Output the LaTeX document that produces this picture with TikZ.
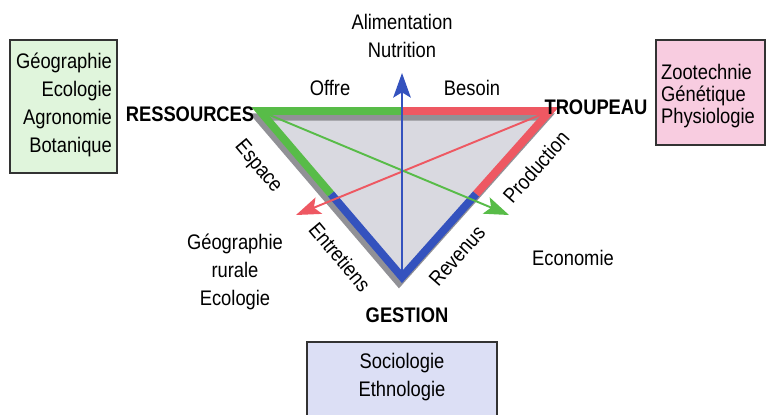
\documentclass[tikz,border=0pt]{standalone}
\usepackage{fontspec}
\setmainfont{Liberation Sans}[FakeStretch=0.87]
\usetikzlibrary{arrows.meta,calc,positioning}
\definecolor{resgreen}{RGB}{88,188,72}
\definecolor{troured}{RGB}{238,88,98}
\definecolor{gesblue}{RGB}{52,82,190}
\definecolor{boxgreen}{RGB}{224,245,220}
\definecolor{boxpink}{RGB}{248,204,224}
\definecolor{boxblue}{RGB}{220,223,245}
\definecolor{trigray}{RGB}{217,217,224}
\definecolor{edgegray}{RGB}{145,145,150}

\begin{document}
\begin{tikzpicture}[x=0.02cm,y=-0.02cm,
  every node/.style={font=\fontsize{12}{16}\selectfont, inner sep=1pt},
  side/.style={line width=4.5pt, line join=miter},
  axe/.style={line width=1.1pt, -{Stealth[length=14pt,width=10pt,inset=3pt]}},
  pole/.style={font=\fontsize{12}{16}\selectfont\bfseries},
  discipline/.style={draw=black!80, line width=0.6pt}]
\useasboundingbox (0,0) rectangle (766,414);
% sommets du triangle
\coordinate (res) at (260,111);
\coordinate (trp) at (550,111);
\coordinate (ges) at (402,277);
\coordinate (mtop) at (402,111);
\coordinate (mleft) at ($(res)!0.5!(ges)$);
\coordinate (mright) at ($(trp)!0.5!(ges)$);
\coordinate (alim) at (402,73);
\coordinate (redtip) at (296,215);
\coordinate (greentip) at (509,215);
% triangle gris
\draw[edgegray, line width=4pt, fill=trigray] ($(res)+(-3,6)$) -- ($(trp)+(-3,6)$) -- ($(ges)+(-3,6)$) -- cycle;
\draw[side, resgreen] (mtop) -- (res) -- (mleft);
\draw[side, troured] (mtop) -- (trp) -- (mright);
\draw[side, gesblue] (mleft) -- (ges) -- (mright);
\draw[axe, troured] (trp) -- (redtip);
\draw[axe, resgreen] (res) -- (greentip);
\draw[axe, gesblue] (ges) -- (alim);
% disciplines
\draw[discipline, fill=boxgreen] (10,40) rectangle (117,173);
\draw[discipline, fill=boxpink] (656,40) rectangle (765,145);
\draw[discipline, fill=boxblue] (307,342) rectangle (497,420);
\node (ressbox) at (114,105) [anchor=east, align=right] {Géographie\\Ecologie\\Agronomie\\Botanique};
\node (troubox) at (659,96) [anchor=west, align=left, font=\fontsize{12}{12.5}\selectfont] {Zootechnie\\Génétique\\Physiologie};
\node (gesbox) at (402,377) [align=center] {Sociologie\\Ethnologie};
% pôles
\node[pole] (ressources) at (190,114) {RESSOURCES};
\node[pole] (troupeau) at (596,107) {TROUPEAU};
\node[pole] (gestion) at (407,315) {GESTION};
% libellés
\node (alimentation) at (402,36) [align=center] {Alimentation\\Nutrition};
\node (offre) at (330,88) {Offre};
\node (besoin) at (472,88) {Besoin};
\node (espace) at (258,167) [rotate=-50] {Espace};
\node (entretiens) at (340,257) [rotate=-50] {Entretiens};
\node (revenus) at (457,256) [rotate=48.5] {Revenus};
\node (production) at (536,167) [rotate=48.5] {Production};
\node (georurale) at (235,272) [align=center] {Géographie\\rurale\\Ecologie};
\node (economie) at (573,258) {Economie};
\end{tikzpicture}
\end{document}
